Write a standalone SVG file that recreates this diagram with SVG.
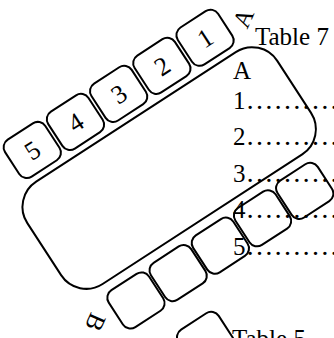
<svg xmlns="http://www.w3.org/2000/svg" width="334" height="338" viewBox="0 0 334 338">
<style>
.s{fill:none;stroke:#000;stroke-width:2}
.t{font-family:"Liberation Serif","Times New Roman",serif;fill:#000}
.d{font-size:26px;text-anchor:middle}
.r{font-size:25px}
.e{font-size:28px}
</style>
<rect width="334" height="338" fill="#fff"/>
<g id="connectors"/>
<g transform="translate(11,198) rotate(-33)">
<g id="main"><rect class="s" x="0" y="0" width="298" height="122" rx="30"/></g>
<g id="box5"><rect class="s" x="20" y="-50.7" width="48" height="44" rx="9"/><text class="t d" x="44" y="-19.5">5</text></g>
<g id="box4"><rect class="s" x="71.5" y="-50.7" width="48" height="44" rx="9"/><text class="t d" x="95.5" y="-19.5">4</text></g>
<g id="box3"><rect class="s" x="123" y="-50.7" width="48" height="44" rx="9"/><text class="t d" x="147" y="-19.5">3</text></g>
<g id="box2"><rect class="s" x="174.5" y="-50.7" width="48" height="44" rx="9"/><text class="t d" x="198.5" y="-19.5">2</text></g>
<g id="box1"><rect class="s" x="226" y="-50.7" width="48" height="44" rx="9"/><text class="t d" x="250" y="-19.5">1</text></g>
<g id="labelA"><text class="t r" text-anchor="middle" transform="translate(293,-24) rotate(-33)" y="8">A</text></g>
<g id="b1"><rect class="s" x="25" y="132" width="48" height="44" rx="9"/></g>
<g id="b2"><rect class="s" x="75.3" y="132" width="48" height="44" rx="9"/></g>
<g id="b3"><rect class="s" x="125.6" y="132" width="48" height="44" rx="9"/></g>
<g id="b4"><rect class="s" x="175.9" y="132" width="48" height="44" rx="9"/></g>
<g id="b5"><rect class="s" x="226.2" y="132" width="48" height="44" rx="9"/></g>
<g id="labelB"><text class="t r" text-anchor="middle" transform="translate(3,150) rotate(147)" y="8">B</text></g>
<g id="box6"><rect class="s" x="62" y="203" width="48" height="44" rx="9"/></g>
</g>
<g id="table7">
<text class="t r" x="255" y="45">Table 7</text>
<text class="t r" x="233" y="79">A</text>
<text class="t r" x="233" y="109">1<tspan class="e">…………</tspan></text>
<text class="t r" x="233" y="145">2<tspan class="e">…………</tspan></text>
<text class="t r" x="233" y="182">3<tspan class="e">…………</tspan></text>
<text class="t r" x="233" y="218">4<tspan class="e">…………</tspan></text>
<text class="t r" x="233" y="255">5<tspan class="e">…………</tspan></text>
</g>
<g id="table5"><text class="t r" x="232" y="347">Table 5</text></g>
</svg>
